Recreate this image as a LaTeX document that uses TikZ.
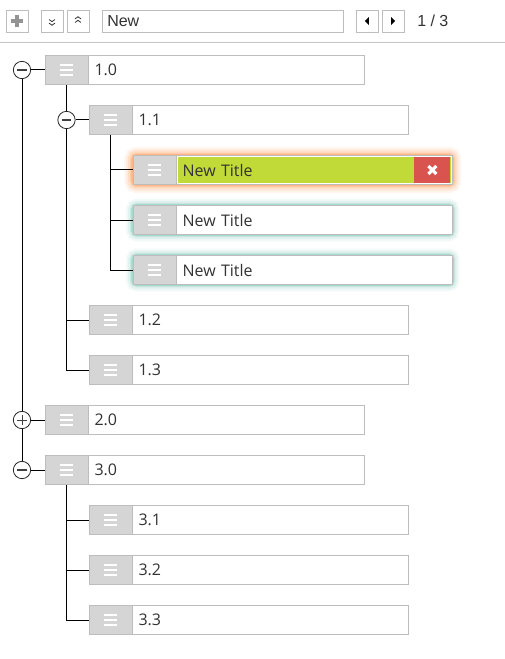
\documentclass[tikz,border=0pt]{standalone}
\usepackage{fontspec}
\setmainfont{Open Sans}
\newfontfamily\toolfont{Liberation Sans}
\usetikzlibrary{positioning,backgrounds}

\definecolor{boxline}{HTML}{BDBDBD}
\definecolor{handlegray}{HTML}{D5D5D5}
\definecolor{textdark}{HTML}{333333}
\definecolor{titlegreen}{HTML}{C1DA38}
\definecolor{delred}{HTML}{D9534F}
\definecolor{glowred}{HTML}{FF8A3D}
\definecolor{glowteal}{HTML}{4FB09A}

\tikzset{
  handle/.style={rectangle, draw=boxline, fill=handlegray, minimum width=32.25pt,
    minimum height=21.75pt, inner sep=0pt,
    path picture={\foreach \dy in {-3.75pt,0pt,3.75pt}
      \draw[white, line width=2pt] ([xshift=-5pt,yshift=\dy]path picture bounding box.center) -- ++(10pt,0);}},
  field/.style={rectangle, draw=boxline, fill=white, minimum width=207pt,
    minimum height=21.75pt, text width=198pt, inner xsep=4.5pt, inner ysep=0pt,
    align=left, text=textdark, font=\fontsize{12pt}{14pt}\selectfont},
  toggle/.style={circle, draw=black!85, fill=white, minimum size=13pt, inner sep=0pt, line width=0.6pt},
  minus/.style={toggle, path picture={
      \draw[black!75, line width=0.9pt] ([xshift=-3.4pt]path picture bounding box.center)
        -- ([xshift=3.4pt]path picture bounding box.center);}},
  plus/.style={toggle, path picture={
      \draw[black!75, line width=0.75pt] ([xshift=-3.4pt]path picture bounding box.center)
        -- ([xshift=3.4pt]path picture bounding box.center);
      \draw[black!75, line width=0.75pt] ([yshift=-3.4pt]path picture bounding box.center)
        -- ([yshift=3.4pt]path picture bounding box.center);}},
  link/.style={draw=black, line width=0.75pt},
  tool/.style={rectangle, draw=boxline, fill=white, minimum size=16.5pt, inner sep=0pt},
  searchbox/.style={tool, anchor=west, text width=173.25pt, inner xsep=3.75pt, align=left,
    text=textdark, font=\toolfont\fontsize{12pt}{14pt}\selectfont},
  delbox/.style={rectangle, fill=delred, minimum width=27pt, minimum height=19pt, inner sep=0pt,
    path picture={
      \draw[white, line width=2.3pt] ([shift={(-3pt,-3pt)}]path picture bounding box.center)
        -- ([shift={(3pt,3pt)}]path picture bounding box.center);
      \draw[white, line width=2.3pt] ([shift={(-3pt,3pt)}]path picture bounding box.center)
        -- ([shift={(3pt,-3pt)}]path picture bounding box.center);}}
}

\begin{document}
\begin{tikzpicture}[x=0.75pt, y=-0.75pt]
    \useasboundingbox (0,0) rectangle (505,659);

    % toolbar
    \node[tool, path picture={
        \draw[gray!85, line width=2.4pt] ([xshift=-4.5pt]path picture bounding box.center) -- ++(9pt,0);
        \draw[gray!85, line width=2.4pt] ([yshift=-4.5pt]path picture bounding box.center) -- ++(0,9pt);}]
      (add) at (17,21) {};
    \node[tool, path picture={\foreach \dy in {1.1pt,-1.6pt}
        \draw[black!80, line width=0.6pt] ([shift={(-2.2pt,\dy)}]path picture bounding box.center)
          -- ++(2.2pt,-1.6pt) -- ++(2.2pt,1.6pt);}]
      (down) at (52,21) {};
    \node[tool, path picture={\foreach \dy in {-1.1pt,1.6pt}
        \draw[black!80, line width=0.6pt] ([shift={(-2.2pt,\dy)}]path picture bounding box.center)
          -- ++(2.2pt,1.6pt) -- ++(2.2pt,-1.6pt);}]
      (up) at (78,21) {};
    \node[searchbox] (search) at (102,21) {New};
    \node[tool, path picture={
        \fill[black] ([xshift=-1.6pt]path picture bounding box.center) -- ++(3pt,3pt) -- ++(0,-6pt) -- cycle;}]
      (prev) at (367,21) {};
    \node[tool, path picture={
        \fill[black] ([xshift=1.6pt]path picture bounding box.center) -- ++(-3pt,3pt) -- ++(0,-6pt) -- cycle;}]
      (next) at (393,21) {};
    \node[anchor=west, inner sep=0pt, text=textdark, font=\toolfont\fontsize{12pt}{14pt}\selectfont]
      (pages) at (417,21) {1 / 3};
    \draw[boxline!90] (0,42) -- (505,42);

    % level 0
    \node[handle] (h10) at (66.5,70) {};
    \node[field, right=0pt of h10] (f10) {1.0};
    \node[handle] (h20) at (66.5,420) {};
    \node[field, right=0pt of h20] (f20) {2.0};
    \node[handle] (h30) at (66.5,470) {};
    \node[field, right=0pt of h30] (f30) {3.0};
    \node[minus] (t10) at (22,70) {};
    \node[plus] (t20) at (22,420) {};
    \node[minus] (t30) at (22,470) {};

    % level 1
    \node[handle] (h11) at (110.5,120) {};
    \node[field, right=0pt of h11] (f11) {1.1};
    \node[handle] (h12) at (110.5,320) {};
    \node[field, right=0pt of h12] (f12) {1.2};
    \node[handle] (h13) at (110.5,370) {};
    \node[field, right=0pt of h13] (f13) {1.3};
    \node[handle] (h31) at (110.5,520) {};
    \node[field, right=0pt of h31] (f31) {3.1};
    \node[handle] (h32) at (110.5,570) {};
    \node[field, right=0pt of h32] (f32) {3.2};
    \node[handle] (h33) at (110.5,620) {};
    \node[field, right=0pt of h33] (f33) {3.3};
    \node[minus] (t11) at (66.5,120) {};

    % level 2
    \node[handle] (h111) at (154.5,170) {};
    \node[field, fill=titlegreen, right=0pt of h111] (f111) {New Title};
    \draw[white, line width=1.2pt] ([shift={(1pt,-1pt)}]f111.north west)
      rectangle ([shift={(-1pt,1pt)}]f111.south east);
    \node[delbox, anchor=east] (del111) at ([xshift=-1.6pt]f111.east) {};
    \node[handle] (h112) at (154.5,220) {};
    \node[field, right=0pt of h112] (f112) {New Title};
    \node[handle] (h113) at (154.5,270) {};
    \node[field, right=0pt of h113] (f113) {New Title};

    \begin{scope}[on background layer]
      \foreach \w/\o in {13/0.07,10/0.1,7/0.14,4/0.22,2/0.35}
        \draw[glowred, line width=\w pt, opacity=\o, rounded corners=3pt]
          (h111.north west) rectangle (f111.south east);
      \foreach \row in {112,113}
        \foreach \w/\o in {10/0.07,7/0.1,4/0.16,2/0.3}
          \draw[glowteal, line width=\w pt, opacity=\o, rounded corners=3pt]
            (h\row.north west) rectangle (f\row.south east);
    \end{scope}

    % connectors
    \draw[link] (t10) -- (h10);
    \draw[link] (t20) -- (h20);
    \draw[link] (t30) -- (h30);
    \draw[link] (t10) -- (t20) -- (t30);
    \draw[link] (h10.south) -- (t11);
    \draw[link] (t11) -- (h11);
    \draw[link] (t11.south) |- (h12.west);
    \draw[link] (t11.south) |- (h13.west);
    \draw[link] (h11.south) |- (h111.west);
    \draw[link] (h11.south) |- (h112.west);
    \draw[link] (h11.south) |- (h113.west);
    \draw[link] (h30.south) |- (h31.west);
    \draw[link] (h30.south) |- (h32.west);
    \draw[link] (h30.south) |- (h33.west);
\end{tikzpicture}
\end{document}
